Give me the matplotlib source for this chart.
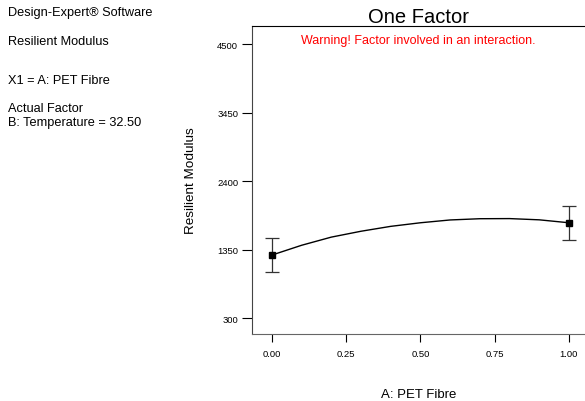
import matplotlib
matplotlib.use("Agg")
import matplotlib.pyplot as plt

plt.rcParams['font.family'] = ['Liberation Sans', 'DejaVu Sans']

# design points (factor A levels) with predicted mean and LSD bar half-width
pet_levels = [0.0, 1.0]
pet_means = [1265, 1760]
pet_err = [258, 258]

# predicted curve
curve_x = [0.0, 0.1, 0.2, 0.3, 0.4, 0.5, 0.6, 0.7, 0.8, 0.9, 1.0]
curve_y = [1265, 1415, 1540, 1630, 1705, 1760, 1803, 1822, 1824, 1805, 1760]

xticks = [0.0, 0.25, 0.5, 0.75, 1.0]
yticks = [300, 1350, 2400, 3450, 4500]

fig = plt.figure(figsize=(5.85, 4.02), dpi=100)
ax = fig.add_axes([252/585, 67/402, 333/585, 308/402])

ax.plot(curve_x, curve_y, color='black', lw=1.0)
ax.errorbar(pet_levels, pet_means, yerr=pet_err, fmt='s', color='black',
            ms=4, ecolor='#333333', elinewidth=0.9, capsize=5, capthick=0.9)

ax.set_xlim(-0.067, 1.054)
ax.set_ylim(55, 4776)
ax.set_xticks(xticks)
ax.set_xticklabels(["%.2f" % v for v in xticks])
ax.set_yticks(yticks)
ax.tick_params(axis='both', labelsize=6.8, direction='out', width=0.8)
ax.tick_params(axis='x', length=6, pad=5)
ax.tick_params(axis='y', length=7, pad=3)
ax.spines['right'].set_visible(False)
ax.spines['bottom'].set_color('#666666')
ax.spines['left'].set_color('#444444')

ax.set_title("One Factor", fontsize=14.5, pad=1.5)
ax.text(0.5, 0.975, "Warning! Factor involved in an interaction.", color='red',
        fontsize=9, ha='center', va='top', transform=ax.transAxes)
ax.set_ylabel("Resilient Modulus", fontsize=9.7)
ax.yaxis.set_label_coords(-0.166, 0.5)
ax.set_xlabel("A: PET Fibre", fontsize=9.5)
ax.xaxis.set_label_coords(0.5, -0.176)

fig.text(8/585, 1 - 13/402, "Design-Expert\u00ae Software", fontsize=9.2, va='center')
fig.text(8/585, 1 - 42/402, "Resilient Modulus", fontsize=9.2, va='center')
fig.text(8/585, 1 - 81/402, "X1 = A: PET Fibre", fontsize=9.2, va='center')
fig.text(8/585, 1 - 116/402, "Actual Factor\nB: Temperature = 32.50", fontsize=9.2,
         va='center', linespacing=1.3)

plt.savefig("out.png", dpi=100)
